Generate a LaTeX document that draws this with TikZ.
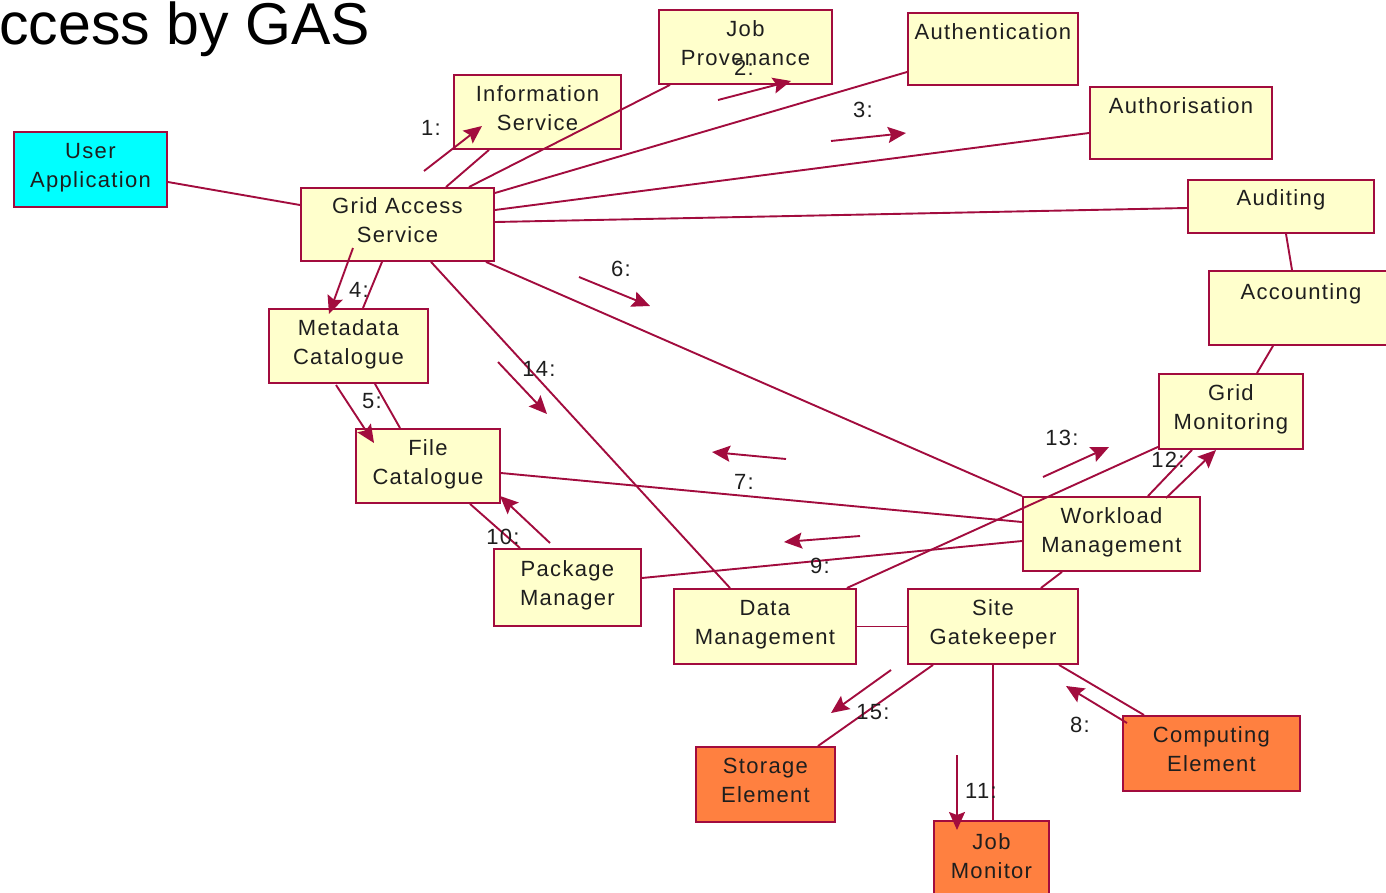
\documentclass[tikz,border=0pt]{standalone}
\usepackage{fontspec}
\setmainfont{Liberation Sans}
\newfontfamily\boxfont[LetterSpace=6]{Liberation Sans}
\usetikzlibrary{arrows.meta,calc}
\definecolor{umlline}{RGB}{162,12,62}
\definecolor{umlfill}{RGB}{255,255,204}
\definecolor{userfill}{RGB}{0,255,255}
\definecolor{devfill}{RGB}{255,128,64}
\definecolor{inktext}{RGB}{30,30,30}
\begin{document}
\begin{tikzpicture}[x=1pt,y=-1pt,
  comp/.style={draw=umlline, line width=1.9pt, fill=umlfill, anchor=north west,
    inner sep=0pt, align=center, text depth=8pt, text=inktext,
    font=\boxfont\fontsize{22}{29}\selectfont},
  user/.style={comp, fill=userfill},
  device/.style={comp, fill=devfill},
  txt/.style={text=inktext, font=\boxfont\fontsize{22}{29}\selectfont, inner sep=0pt},
  link/.style={draw=umlline, line width=1.9pt},
  msg/.style={draw=umlline, line width=1.9pt, -{Stealth[length=18pt,width=16pt,inset=3pt]}},
  lbl/.style={txt},
]
\clip (0,0) rectangle (1386,892);

% heading
\node[anchor=base east, inner sep=0pt, font=\fontsize{59}{65}\selectfont] (title) at (370,44) {ccess by GAS};

% components
\node[user, minimum width=153, minimum height=75] (UA) at (13,131) {User\\Application};
\node[comp, minimum width=167, minimum height=74] (IS) at (453,74) {Information\\Service};
\node[comp, minimum width=173, minimum height=74] (JP) at (658,9) {Job\\Provenance};
\node[comp, minimum width=170, minimum height=72] (AUTHN) at (907,12) {};
\node[txt] (AUTHNt) at ($(AUTHN.north)+(0,20)$) {Authentication};
\node[comp, minimum width=182, minimum height=72] (AUTHZ) at (1089,86) {};
\node[txt] (AUTHZt) at ($(AUTHZ.north)+(0,20)$) {Authorisation};
\node[comp, minimum width=186, minimum height=53] (AUD) at (1187,179) {};
\node[txt] (AUDt) at ($(AUD.north)+(0,21)$) {Auditing};
\node[comp, minimum width=184, minimum height=74] (ACC) at (1208,270) {};
\node[txt] (ACCt) at ($(ACC.north)+(0,24)$) {Accounting};
\node[comp, minimum width=193, minimum height=73] (GAS) at (300,187) {Grid Access\\Service};
\node[comp, minimum width=159, minimum height=74] (MC) at (268,308) {Metadata\\Catalogue};
\node[comp, minimum width=144, minimum height=74] (FC) at (355,428) {File\\Catalogue};
\node[comp, minimum width=147, minimum height=77] (PM) at (493,548) {Package\\Manager};
\node[comp, minimum width=182, minimum height=75] (DM) at (673,588) {Data\\Management};
\node[comp, minimum width=170, minimum height=75] (SG) at (907,588) {Site\\Gatekeeper};
\node[comp, minimum width=177, minimum height=74] (WM) at (1022,496) {Workload\\Management};
\node[comp, minimum width=144, minimum height=75] (GM) at (1158,373) {Grid\\Monitoring};
\node[device, minimum width=139, minimum height=75] (SE) at (695,746) {Storage\\Element};
\node[device, minimum width=115, minimum height=78] (JM) at (933,820) {Job\\Monitor};
\node[device, minimum width=177, minimum height=75] (CE) at (1122,715) {Computing\\Element};

% associations
\draw[link] ($(UA.north east)+(0,51)$) -- ($(GAS.north west)+(0,18)$);
\draw[link] ($(GAS.north west)+(146,0)$) -- ($(IS.south west)+(36,0)$);
\draw[link] ($(GAS.north west)+(169,0)$) -- ($(JP.south west)+(12,0)$);
\draw[link] ($(GAS.north east)+(0,6)$) -- ($(AUTHN.north west)+(0,60)$);
\draw[link] ($(GAS.north east)+(0,23)$) -- ($(AUTHZ.north west)+(0,47)$);
\draw[link] ($(GAS.north east)+(0,35)$) -- ($(AUD.north west)+(0,29)$);
\draw[link] ($(AUD.south west)+(99,0)$) -- ($(ACC.north west)+(84,0)$);
\draw[link] ($(ACC.south west)+(65,0)$) -- ($(GM.north west)+(99,0)$);
\draw[link] ($(GAS.south west)+(82,0)$) -- ($(MC.north west)+(95,0)$);
\draw[link] ($(GAS.south west)+(131,0)$) -- ($(DM.north west)+(57,0)$);
\draw[link] ($(GAS.south east)+(-9,0)$) -- (WM.north west);
\draw[link] ($(MC.south west)+(107,0)$) -- ($(FC.north west)+(45,0)$);
\draw[link] ($(FC.south west)+(115,0)$) -- ($(PM.north west)+(27,0)$);
\draw[link] ($(FC.north east)+(0,45)$) -- ($(WM.north west)+(0,26)$);
\draw[link] ($(PM.north east)+(0,30)$) -- ($(WM.north west)+(0,45)$);
\draw[link] ($(DM.north east)+(-10,0)$) -- ($(GM.south west)+(0,-3)$);
\draw[link] (DM.east) -- (SG.west);
\draw[link] ($(WM.south west)+(40,0)$) -- ($(SG.north east)+(-38,0)$);
\draw[link] ($(WM.north west)+(126,0)$) -- ($(GM.south west)+(34,0)$);
\draw[link] ($(SG.south west)+(26,0)$) -- ($(SE.north west)+(123,0)$);
\draw[link] ($(SG.south west)+(86,0)$) -- ($(JM.north west)+(60,0)$);
\draw[link] ($(SG.south west)+(152,0)$) -- ($(CE.north west)+(22,0)$);

% message arrows
\coordinate (m1a) at (424,171);   \coordinate (m1b) at (482,126);
\coordinate (m2a) at (718,100);   \coordinate (m2b) at (791,81);
\coordinate (m3a) at (831,141);   \coordinate (m3b) at (906,133);
\coordinate (m4a) at (353,248);   \coordinate (m4b) at (329,314);
\coordinate (m5a) at (336,385);   \coordinate (m5b) at (374,443);
\coordinate (m6a) at (579,277);   \coordinate (m6b) at (650,306);
\coordinate (m7a) at (786,459);   \coordinate (m7b) at (712,452);
\coordinate (m8a) at (1127,723);  \coordinate (m8b) at (1066,686);
\coordinate (m9a) at (860,536);   \coordinate (m9b) at (784,542);
\coordinate (m10a) at (550,543);  \coordinate (m10b) at (500,496);
\coordinate (m11a) at (957,755);  \coordinate (m11b) at (957,830);
\coordinate (m12a) at (1166,498); \coordinate (m12b) at (1216,450);
\coordinate (m13a) at (1043,477); \coordinate (m13b) at (1109,447);
\coordinate (m14a) at (498,362);  \coordinate (m14b) at (547,414);
\coordinate (m15a) at (891,670);  \coordinate (m15b) at (831,713);
\foreach \m in {1,...,15} {\draw[msg] (m\m a) -- (m\m b);}

% sequence numbers
\node[lbl] (n1) at (431,128) {1:};
\node[lbl] (n2) at (744,68) {2:};
\node[lbl] (n3) at (863,110) {3:};
\node[lbl] (n4) at (359,290) {4:};
\node[lbl] (n5) at (372,401) {5:};
\node[lbl] (n6) at (621,269) {6:};
\node[lbl] (n7) at (744,482) {7:};
\node[lbl] (n8) at (1080,725) {8:};
\node[lbl] (n9) at (820,566) {9:};
\node[lbl] (n10) at (503,537) {10:};
\node[lbl] (n11) at (981,791) {11:};
\node[lbl] (n12) at (1168,460) {12:};
\node[lbl] (n13) at (1062,438) {13:};
\node[lbl] (n14) at (539,369) {14:};
\node[lbl] (n15) at (873,712) {15:};
\end{tikzpicture}
\end{document}
